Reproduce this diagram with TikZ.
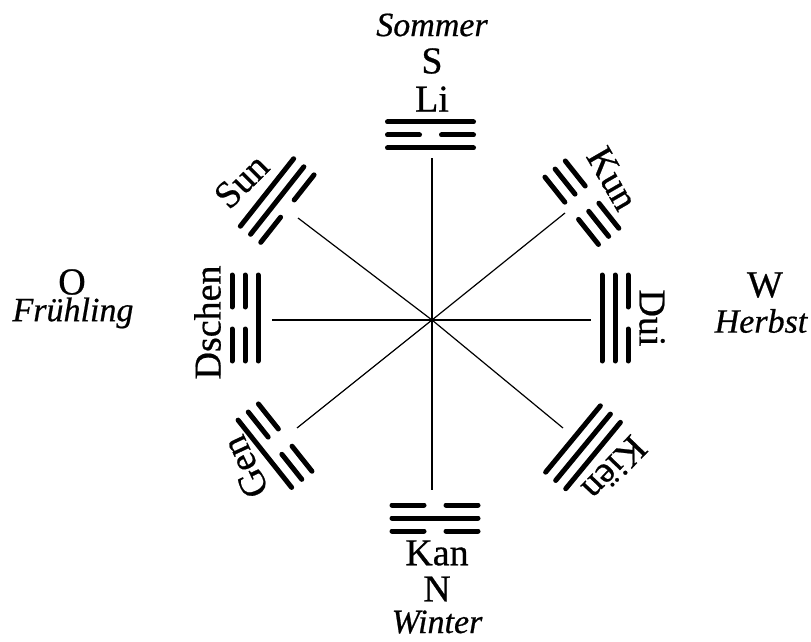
\documentclass[tikz,border=0pt]{standalone}
\usepackage{fontspec}
\setmainfont{Liberation Serif}[FakeBold=0.6]
\newcommand\yaoseg[2]{%
  \ifnum#2=1\relax
    \draw[yaoline] (#1,-43) -- (#1,43);%
  \else
    \draw[yaoline] (#1,-43) -- (#1,-11) (#1,11) -- (#1,43);%
  \fi}
\newcommand\trigram[6]{%
  \coordinate (#1) at #2;
  \begin{scope}[shift={#2},rotate=#3]
    \yaoseg{0}{#4}\yaoseg{13}{#5}\yaoseg{26}{#6}
  \end{scope}}
\begin{document}
\begin{tikzpicture}[x=1pt,y=1pt,
  yaoline/.style={line width=5pt,line cap=round,black},
  ray/.style={line width=1.2pt,black},
  rm/.style={font=\fontsize{38}{44}\selectfont,inner sep=0pt},
  it/.style={font=\fontsize{34}{40}\selectfont\itshape,inner sep=0pt}]
\useasboundingbox (0,0) rectangle (811,641);
% centre and ray ends
\coordinate (c) at (432,321);
\coordinate (eN) at (432,483);
\coordinate (eS) at (432,151);
\coordinate (eW) at (272,321);
\coordinate (eE) at (591,321);
\coordinate (eNE) at (565,428);
\coordinate (eSE) at (563,213);
\coordinate (eNW) at (298,423);
\coordinate (eSW) at (297,213);
\foreach \e in {eN,eS,eW,eE,eNE,eSE,eNW,eSW} \draw[ray] (c) -- (\e);
% trigrams: name, inner-line centre, radial angle, bottom, middle, top
\trigram{li}{(430.5,493)}{90}{1}{0}{1}
\trigram{kan}{(435,136)}{-90}{0}{1}{0}
\trigram{dschen}{(258,323)}{180}{1}{0}{0}
\trigram{dui}{(602,323)}{0}{1}{1}{0}
\trigram{kun}{(571.7,430.2)}{38.5}{0}{0}{0}
\trigram{kien}{(573,202)}{-39.5}{1}{1}{1}
\trigram{sun}{(287.4,432.4)}{141.7}{0}{1}{1}
\trigram{gen}{(285.2,203.4)}{218.5}{0}{0}{1}
% labels
\node[it] (sommer) at (432,616) {Sommer};
\node[rm] (s) at (432,580) {S};
\node[rm] (lilab) at (432,542) {Li};
\node[rm] (kanlab) at (437,88) {Kan};
\node[rm] (n) at (437,52) {N};
\node[it] (winter) at (437,19) {Winter};
\node[rm] (o) at (72,359) {O};
\node[it] (fruehling) at (73,328) {Frühling};
\node[rm] (w) at (765,356) {W};
\node[it] (herbst) at (761,320) {Herbst};
\node[rm,rotate=90] (dschenlab) at (207.5,318.5) {Dschen};
\node[rm,rotate=-90] (duilab) at (652,323) {Dui};
\node[rm,rotate=45] (sunlab) at (241.5,460) {Sun};
\node[rm,rotate=-60] (kunlab) at (612.5,462.5) {Kun};
\node[rm,rotate=-134] (kienlab) at (614.5,172.5) {Kiën};
\node[rm,rotate=115] (genlab) at (245,174) {Gen};
\end{tikzpicture}
\end{document}
